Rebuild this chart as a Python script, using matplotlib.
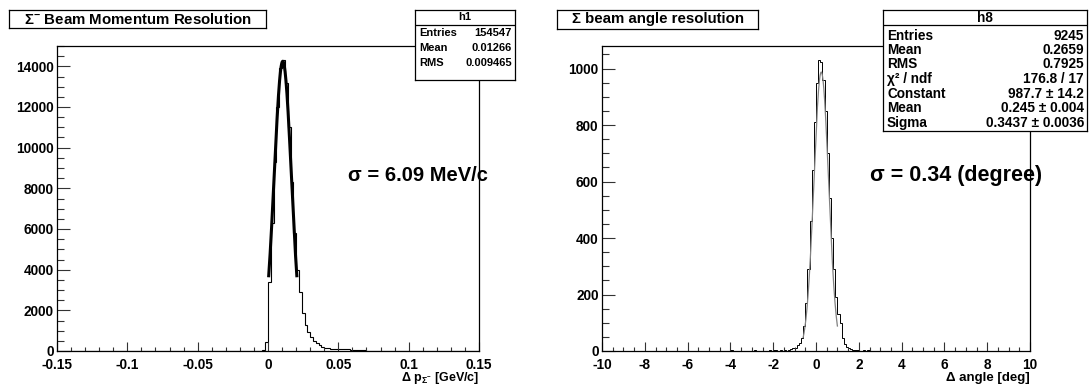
import numpy as np
import matplotlib
matplotlib.use('Agg')
import matplotlib.pyplot as plt
from matplotlib.ticker import MultipleLocator, FuncFormatter

plt.rcParams['font.family'] = ['Liberation Sans', 'DejaVu Sans']
plt.rcParams['font.weight'] = 'bold'
plt.rcParams['mathtext.fontset'] = 'custom'
plt.rcParams['mathtext.rm'] = 'Liberation Sans:bold'
plt.rcParams['mathtext.it'] = 'Liberation Sans:bold'
plt.rcParams['mathtext.bf'] = 'Liberation Sans:bold'

W, H = 1091, 385

# ---- Sigma- momentum resolution (h1), 0.002 GeV/c bins starting at -0.004
mom_range = (-0.15, 0.15)
mom_bin = 0.002
mom_start = -0.004
mom_counts = [40, 420, 3400, 6300, 9300, 12000, 13900, 14300, 13200, 11000,
              8300, 5800, 4000, 2900, 1850, 1300, 950, 700, 500, 370,
              280, 220, 170, 140, 120, 110, 100, 95, 90, 80,
              75, 65, 55, 50, 45, 40, 30]
mom_fit = (14250, 0.0105, 0.00609)      # constant, mean, sigma
mom_fit_range = (0.0005, 0.0205)
mom_stats = [('Entries', '154547'), ('Mean', '0.01266'), ('RMS', '0.009465')]

# ---- Sigma beam angle resolution (h8), 0.1 deg bins
ang_range = (-10, 10)
ang_bin = 0.1
ang_start = -1.3
ang_counts = [5, 8, 12, 10, 20, 30, 45, 90, 170, 290,
              460, 640, 810, 950, 1030, 1025, 960, 850, 700, 540,
              400, 290, 190, 130, 100, 45, 25, 15, 10, 6,
              5, 4, 2]
ang_outlier_lo = [-4.0, -3.6, -2.9, -2.5, -2.2, -2.0, -1.9, -1.7, -1.5, 2.2, 2.4, 2.7, 3.3, 5.0]
ang_outlier_n = [2, 1, 2, 1, 3, 2, 3, 2, 4, 2, 2, 1, 1, 1]
ang_fit = (987.7, 0.245, 0.3437)
ang_fit_range = (-0.6, 1.0)
ang_stats = [('Entries', '9245'), ('Mean', '0.2659'), ('RMS', '0.7925'),
             ('χ² / ndf', '176.8 / 17'), ('Constant', '987.7 ± 14.2'),
             ('Mean', '0.245 ± 0.004'), ('Sigma', '0.3437 ± 0.0036')]


def full_hist(rng, width, start, counts, extra_lo=(), extra_n=()):
    nb = int(round((rng[1] - rng[0]) / width))
    edges = np.linspace(rng[0], rng[1], nb + 1)
    vals = np.zeros(nb)
    i0 = int(round((start - rng[0]) / width))
    vals[i0:i0 + len(counts)] = counts
    for lo, n in zip(extra_lo, extra_n):
        vals[int(round((lo - rng[0]) / width))] = n
    return edges, vals


def gauss(x, p):
    return p[0] * np.exp(-0.5 * ((x - p[1]) / p[2]) ** 2)


def px_axes(x0, y0, x1, y1, **kw):
    return fig.add_axes([x0 / W, 1 - y1 / H, (x1 - x0) / W, (y1 - y0) / H], **kw)


def style(ax, xl, yl, xmaj, xmin, ymaj, ymin):
    ax.set_xlim(*xl)
    ax.set_ylim(*yl)
    ax.xaxis.set_major_locator(MultipleLocator(xmaj))
    ax.xaxis.set_minor_locator(MultipleLocator(xmin))
    ax.yaxis.set_major_locator(MultipleLocator(ymaj))
    ax.yaxis.set_minor_locator(MultipleLocator(ymin))
    ax.xaxis.set_major_formatter(FuncFormatter(lambda v, p: '%g' % round(v, 6)))
    ax.yaxis.set_major_formatter(FuncFormatter(lambda v, p: '%g' % round(v, 6)))
    ax.tick_params(axis='both', which='both', direction='in', top=False, right=False,
                   labelsize=9.8, width=0.8, color='#333333')
    ax.tick_params(axis='x', which='major', length=6.5, pad=5.2)
    ax.tick_params(axis='x', which='minor', length=3.2)
    ax.tick_params(axis='y', which='major', length=9.5, pad=2.5)
    ax.tick_params(axis='y', which='minor', length=4.7)
    for s in ax.spines.values():
        s.set_linewidth(0.9)


def title_box(x0, y0, x1, y1, text):
    b = px_axes(x0, y0, x1, y1)
    b.set_xticks([])
    b.set_yticks([])
    for s in b.spines.values():
        s.set_linewidth(0.9)
    b.text(0.5, 0.5, text, ha='center', va='center', fontsize=10.8, transform=b.transAxes)


def stats_box(x0, y0, x1, y1, name, rows, row_y, fs):
    b = px_axes(x0, y0, x1, y1)
    b.set_xlim(x0, x1)
    b.set_ylim(y1, y0)
    b.set_xticks([])
    b.set_yticks([])
    b.set_zorder(5)
    for s in b.spines.values():
        s.set_linewidth(0.9)
    b.axhline(y0 + 15, color='k', lw=0.9)
    b.text((x0 + x1) / 2, y0 + 7.5, name, ha='center', va='center', fontsize=fs)
    for (lab, val), yy in zip(rows, row_y):
        b.text(x0 + 4, yy, lab, ha='left', va='center', fontsize=fs)
        b.text(x1 - 3, yy, val, ha='right', va='center', fontsize=fs)


fig = plt.figure(figsize=(W / 100, H / 100), dpi=100)

# left panel
ax1 = px_axes(57, 46, 479, 351)
edges, vals = full_hist(mom_range, mom_bin, mom_start, mom_counts)
ax1.stairs(vals, edges, color='k', lw=0.8)
xf = np.linspace(*mom_fit_range, 200)
ax1.plot(xf, gauss(xf, mom_fit), color='k', lw=2.2)
style(ax1, mom_range, (0, 15000), 0.05, 0.01, 2000, 500)
ax1.text(0.69, 0.577, 'σ = 6.09 MeV/c', transform=ax1.transAxes, fontsize=14.5,
         ha='left', va='center')
fig.text(479 / W, 1 - 380.8 / H, 'Δ p$_{\\Sigma^{-}}$ [GeV/c]', ha='right', va='baseline', fontsize=9)

# right panel
ax2 = px_axes(602, 46, 1030, 351)
edges, vals = full_hist(ang_range, ang_bin, ang_start, ang_counts, ang_outlier_lo, ang_outlier_n)
ax2.stairs(vals, edges, color='k', lw=0.7)
xf = np.linspace(*ang_fit_range, 200)
ax2.plot(xf, gauss(xf, ang_fit), color='0.5', lw=0.9)
style(ax2, ang_range, (0, 1080), 2, 0.5, 200, 50)
ax2.text(0.626, 0.577, 'σ = 0.34 (degree)', transform=ax2.transAxes, fontsize=15.5,
         ha='left', va='center')
fig.text(1030 / W, 1 - 381 / H, 'Δ angle [deg]', ha='right', va='baseline', fontsize=9.5)

title_box(9, 10, 266, 28, 'Σ$^{-}$ Beam Momentum Resolution')
title_box(557, 10, 758, 29, 'Σ beam angle resolution')

stats_box(415, 10, 515, 80, 'h1', mom_stats, [33, 48, 63], 8)
stats_box(883, 10, 1087, 131, 'h8', ang_stats, [36, 50, 64.5, 79, 94, 108, 123], 9.8)

fig.savefig('out.png', dpi=100)
